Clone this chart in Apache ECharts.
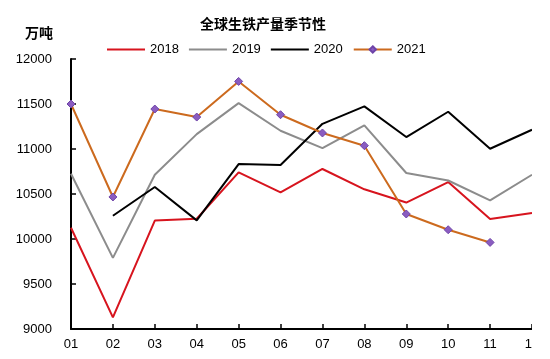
<!DOCTYPE html>
<html><head><meta charset="utf-8">
<script src="https://cdn.jsdelivr.net/npm/echarts@6/dist/echarts.min.js"></script>
<style>html,body{margin:0;padding:0;background:#fff;}
#wrap{width:532px;height:359px;overflow:hidden;}
#c{width:550px;height:359px;}</style>
</head><body><div id="wrap"><div id="c"></div></div>
<script>
const months = ['01','02','03','04','05','06','07','08','09','10','11','12'];
const yTicks = [9000, 9500, 10000, 10500, 11000, 11500, 12000];
const s2018 = [10125, 9130, 10205, 10225, 10740, 10518, 10778, 10552, 10405, 10633, 10222, 10288];
const s2019 = [10725, 9790, 10714, 11165, 11510, 11203, 11010, 11262, 10733, 10650, 10430, 10714];
const s2020 = [null, 10258, 10578, 10207, 10833, 10822, 11280, 11474, 11133, 11414, 11003, 11214];
const s2021 = [11500, 10467, 11444, 11355, 11751, 11381, 11178, 11037, 10278, 10103, 9962];

const chart = echarts.init(document.getElementById('c'));
const font = '"Liberation Sans", Arial, sans-serif';
function line(name, data, color, marker) {
  return {
    name, type: 'line', data, connectNulls: false,
    symbol: marker ? 'diamond' : 'none', symbolSize: 8, showSymbol: !!marker,
    lineStyle: { color, width: 2 },
    itemStyle: marker ? { color: '#8A5CC0', borderColor: '#6E44A8', borderWidth: 1 } : { color },
    emphasis: { disabled: true }, animation: false
  };
}
chart.setOption({
  animation: false,
  title: [
    { text: '全球生铁产量季节性', left: 258, top: 12, textAlign: 'center',
      textStyle: { fontSize: 14, fontWeight: 'bold', color: '#000', fontFamily: '"Noto Sans CJK SC", sans-serif' } },
    { text: '万吨', left: 34, top: 21, textAlign: 'center',
      textStyle: { fontSize: 14, fontWeight: 'bold', color: '#000', fontFamily: '"Noto Sans CJK SC", sans-serif' } }
  ],
  legend: {
    top: 38, left: 102, itemWidth: 38, itemHeight: 8, itemGap: 10,
    textStyle: { fontSize: 13, color: '#000', fontFamily: font },
    data: [
      { name: '2018', icon: 'path://M0,4L40,4L40,6L0,6Z' },
      { name: '2019', icon: 'path://M0,4L40,4L40,6L0,6Z' },
      { name: '2020', icon: 'path://M0,4L40,4L40,6L0,6Z' },
      { name: '2021' }
    ]
  },
  grid: { left: 71, right: 18, top: 59, bottom: 30 },
  xAxis: {
    type: 'category', data: months, boundaryGap: false,
    axisLine: { lineStyle: { color: '#000', width: 2 } },
    axisTick: { inside: true, length: 5, lineStyle: { color: '#000', width: 1.5 } },
    axisLabel: { fontSize: 13, color: '#000', margin: 9, fontFamily: font }
  },
  yAxis: {
    type: 'value', min: yTicks[0], max: yTicks[yTicks.length - 1], interval: 500,
    axisLine: { show: true, lineStyle: { color: '#000', width: 2 } },
    axisTick: { show: true, inside: true, length: 5, lineStyle: { color: '#000', width: 1.5 } },
    splitLine: { show: false },
    axisLabel: { fontSize: 13, color: '#000', margin: 19, fontFamily: font, formatter: v => String(v) }
  },
  series: [
    line('2018', s2018, '#D7141E'),
    line('2019', s2019, '#8C8C8C'),
    line('2020', s2020, '#000000'),
    Object.assign(line('2021', s2021, '#CC6A1E', true), { z: 5 })
  ]
});
</script></body></html>
